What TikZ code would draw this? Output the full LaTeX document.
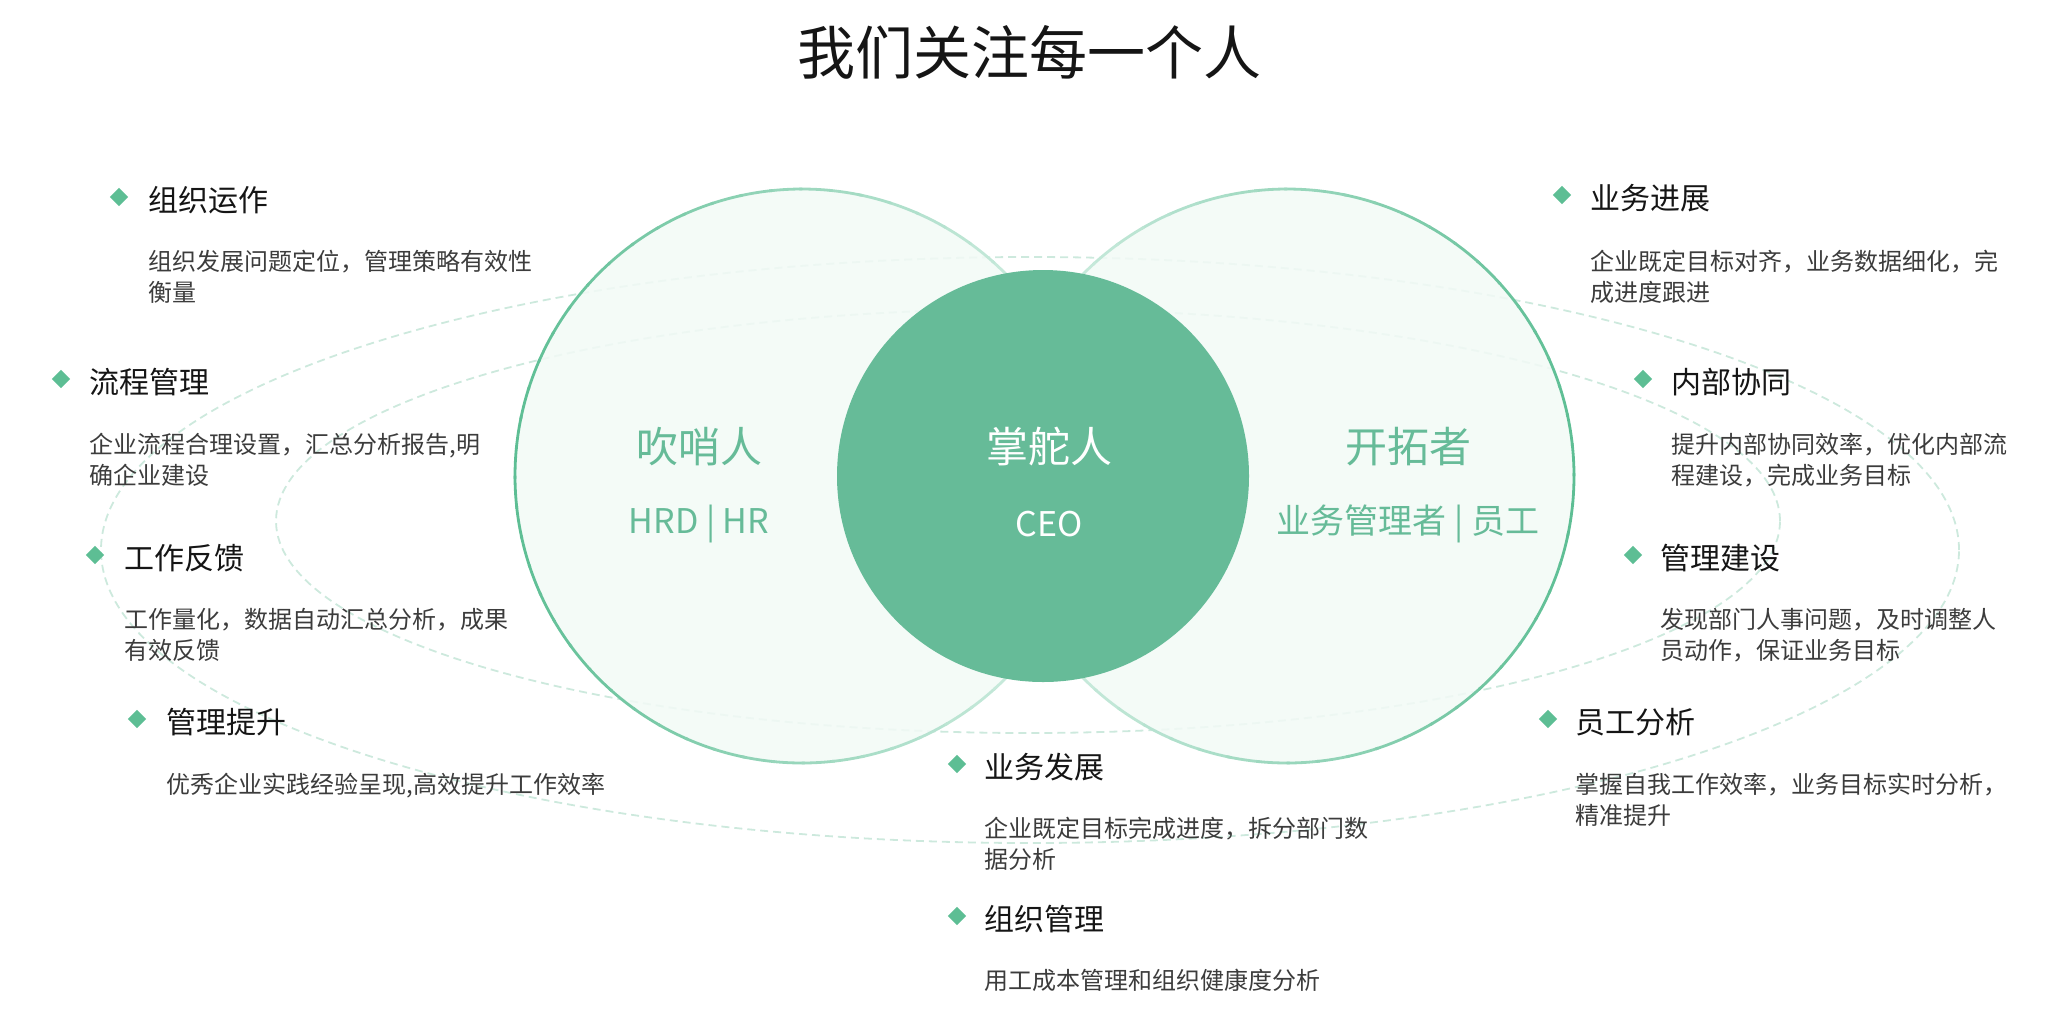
\documentclass[tikz,border=0pt]{standalone}
\usepackage{fontspec}
\setmainfont{Noto Sans CJK SC}
\definecolor{cgreen}{HTML}{66BB98}
\definecolor{cdark}{HTML}{5DBE94}
\definecolor{clight}{HTML}{D8F0E6}
\definecolor{cfill}{HTML}{F2FAF6}
\definecolor{cdash}{HTML}{CDE9DD}
\definecolor{chead}{HTML}{151515}
\definecolor{ctext}{HTML}{3C3C3C}

\begin{document}
\begin{tikzpicture}[x=0.5pt,y=-0.5pt,
  itemhead/.style={anchor=west,inner sep=0pt,text=chead,font=\fontsize{15pt}{18pt}\selectfont},
  itemtext/.style={anchor=north west,inner sep=0pt,align=left,text=ctext,font=\fontsize{12pt}{15.5pt}\selectfont},
  gem/.style={fill=cdark,rotate=45,minimum size=6.4pt,inner sep=0pt},
  ring/.style={line width=1.4pt,line cap=round}]
\useasboundingbox (0,0) rectangle (2048,1018);

% dashed orbits
\draw[cdash,line width=0.9pt,dash pattern=on 4pt off 2.5pt] (1030,550) ellipse [x radius=464.5pt, y radius=146.5pt];
\draw[cdash,line width=0.9pt,dash pattern=on 4pt off 2.5pt] (1028,521) ellipse [x radius=376pt, y radius=106pt];

% the three circles
\coordinate (lc) at (802,476);
\coordinate (rc) at (1287,476);
\coordinate (mc) at (1043,476);
\fill[cfill,fill opacity=0.88] (lc) circle [radius=143.5pt];
\fill[cfill,fill opacity=0.88] (rc) circle [radius=143.5pt];
\foreach \a in {0,6,...,354}{
  \pgfmathsetmacro\p{50-50*cos(\a+3)}
  \pgfmathsetmacro\q{50+50*cos(\a+3)}
  \draw[ring,cdark!\p!clight] (lc) ++(\a:143.5pt) arc [start angle=\a, end angle=\a+6.5, radius=143.5pt];
  \draw[ring,cdark!\q!clight] (rc) ++(\a:143.5pt) arc [start angle=\a, end angle=\a+6.5, radius=143.5pt];
}
\fill[cgreen] (mc) circle [radius=103pt];

\node (title) at (1029,52)[text=chead,font=\fontsize{29pt}{34pt}\selectfont] {我们关注每一个人};

\node (whistle) at (699,447)[text=cgreen,font=\fontsize{21pt}{24pt}\selectfont] {吹哨人};
\node (hr) at (699,524)[text=cgreen,font=\fontsize{17pt}{20pt}\selectfont] {HRD | HR};
\node (helm) at (1049,447)[text=white,font=\fontsize{21pt}{24pt}\selectfont] {掌舵人};
\node (ceo) at (1049,524)[text=white,font=\fontsize{17pt}{20pt}\selectfont] {CEO};
\node (pioneer) at (1408,447)[text=cgreen,font=\fontsize{21pt}{24pt}\selectfont] {开拓者};
\node (staff) at (1408,524)[text=cgreen,font=\fontsize{17pt}{20pt}\selectfont] {业务管理者 | 员工};

% left side
\node (d1) at (119,197)[gem] {};
\node (h1) at (148,200)[itemhead] {组织运作};
\node (t1) at (148,250)[itemtext] {组织发展问题定位，管理策略有效性\\衡量};
\node (d2) at (61,379)[gem] {};
\node (h2) at (89,382)[itemhead] {流程管理};
\node (t2) at (89,433)[itemtext] {企业流程合理设置，汇总分析报告,明\\确企业建设};
\node (d3) at (95,555)[gem] {};
\node (h3) at (124,558)[itemhead] {工作反馈};
\node (t3) at (124,608)[itemtext] {工作量化，数据自动汇总分析，成果\\有效反馈};
\node (d4) at (137,719)[gem] {};
\node (h4) at (166,722)[itemhead] {管理提升};
\node (t4) at (166,773)[itemtext] {优秀企业实践经验呈现,高效提升工作效率};

% right side
\node (d5) at (1562,195)[gem] {};
\node (h5) at (1590,198)[itemhead] {业务进展};
\node (t5) at (1590,250)[itemtext] {企业既定目标对齐，业务数据细化，完\\成进度跟进};
\node (d6) at (1643,379)[gem] {};
\node (h6) at (1671,382)[itemhead] {内部协同};
\node (t6) at (1671,433)[itemtext] {提升内部协同效率，优化内部流\\程建设，完成业务目标};
\node (d7) at (1633,555)[gem] {};
\node (h7) at (1660,558)[itemhead] {管理建设};
\node (t7) at (1660,608)[itemtext] {发现部门人事问题，及时调整人\\员动作，保证业务目标};
\node (d8) at (1548,719)[gem] {};
\node (h8) at (1575,722)[itemhead] {员工分析};
\node (t8) at (1575,773)[itemtext] {掌握自我工作效率，业务目标实时分析，\\精准提升};

% bottom
\node (d9) at (957,764)[gem] {};
\node (h9) at (984,767)[itemhead] {业务发展};
\node (t9) at (984,817)[itemtext] {企业既定目标完成进度，拆分部门数\\据分析};
\node (d10) at (957,916)[gem] {};
\node (h10) at (984,919)[itemhead] {组织管理};
\node (t10) at (984,969)[itemtext] {用工成本管理和组织健康度分析};
\end{tikzpicture}
\end{document}
